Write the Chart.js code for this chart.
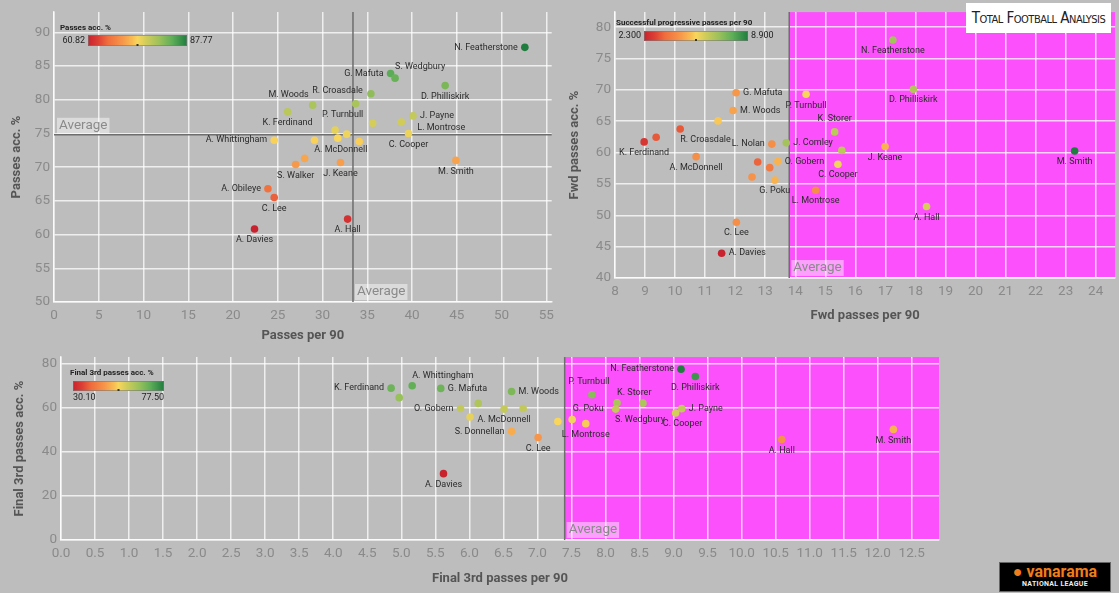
<!DOCTYPE html>
<html>
<head>
<meta charset="utf-8">
<title>Passing scatter plots</title>
<script src="https://cdn.jsdelivr.net/npm/chart.js"></script>
<style>
    body { margin: 0; background: #bdbdbd; width: 1119px; height: 593px; overflow: hidden; position: relative; font-family: Roboto, sans-serif; }
    canvas { position: absolute; }
    #c1 { left: 0; top: 0; }
    #c2 { left: 560px; top: 0; }
    #c3 { left: 0; top: 345px; }
    .tfa { position: absolute; left: 966px; top: 3px; width: 145px; height: 30px; background: #fff;
           font-family: "DejaVu Sans Condensed", sans-serif; font-variant: small-caps; font-size: 15px;
           color: #222; text-align: center; line-height: 30px; letter-spacing: -0.5px; }
    .vnl { position: absolute; left: 999px; top: 562px; width: 110px; height: 28px; background: #000;
           border: 1px solid #666; text-align: center; }
    .vnl .v { color: #f07d1a; font: bold 16px Roboto, sans-serif; line-height: 17px; }
    .vnl .n { color: #eee; font: bold 7px Roboto, sans-serif; letter-spacing: 0.3px; }
</style>
</head>
<body>
    <canvas id="c1" width="560" height="350"></canvas>
    <canvas id="c2" width="559" height="330"></canvas>
    <canvas id="c3" width="950" height="248"></canvas>
    <div class="tfa">Total Football Analysis</div>
    <div class="vnl"><div class="v">&#9679; vanarama</div><div class="n">NATIONAL LEAGUE</div></div>

    <script>
        // ---- Passes (top left) ----
        const names1 = ['N. Featherstone', 'G. Mafuta', 'S. Wedgbury', 'D. Philliskirk', 'R. Croasdale', 'P. Turnbull',
            'M. Woods', 'K. Ferdinand', 'J. Payne', 'L. Montrose', '', '', '', 'C. Cooper', 'A. Whittingham', '',
            'A. McDonnell', '', '', 'S. Walker', 'J. Keane', 'M. Smith', 'A. Obileye', 'C. Lee', 'A. Davies', 'A. Hall'];
        const passes90 = [52.6, 37.6, 38.1, 43.7, 35.4, 33.7, 28.9, 26.1, 40.1, 38.8, 35.6, 31.4, 32.7, 39.6, 24.6, 29.1,
            31.7, 34.1, 28.0, 27.0, 32.0, 44.9, 23.9, 24.6, 22.4, 32.8];
        const passAcc = [87.77, 83.9, 83.2, 82.1, 80.9, 79.4, 79.2, 78.2, 77.6, 76.7, 76.5, 75.5, 74.9, 75.0, 74.0, 74.0,
            74.3, 73.8, 71.3, 70.4, 70.7, 71.0, 66.8, 65.5, 60.82, 62.3];
        const avgPasses90 = 33.4;
        const avgPassAcc = 74.8;

        // ---- Forward passes (top right), colour = successful progressive passes per 90 ----
        const names2 = ['N. Featherstone', 'D. Philliskirk', 'G. Mafuta', 'P. Turnbull', 'M. Woods', '', 'K. Storer',
            'R. Croasdale', '', 'K. Ferdinand', 'L. Nolan', 'J. Comley', 'J. Keane', '', 'M. Smith', 'A. McDonnell',
            'O. Gobern', '', 'C. Cooper', '', '', 'G. Poku', 'L. Montrose', 'A. Hall', 'C. Lee', 'A. Davies'];
        const fwd90 = [17.25, 17.93, 12.03, 14.36, 11.93, 11.43, 15.31, 10.17, 9.37, 8.97, 13.22, 13.70, 16.99, 15.55,
            23.3, 10.70, 13.42, 12.75, 15.42, 13.15, 12.56, 13.32, 14.68, 18.37, 12.04, 11.55];
        const fwdAcc = [77.96, 70.1, 69.55, 69.3, 66.7, 65.05, 63.3, 63.75, 62.45, 61.7, 61.35, 61.55, 60.97, 60.35,
            60.25, 59.35, 58.6, 58.5, 58.15, 57.6, 56.1, 55.6, 54.0, 51.4, 48.9, 43.95];
        const progPasses90 = [6.9, 6.65, 4.6, 5.6, 4.8, 5.4, 6.5, 3.35, 3.35, 2.8, 4.4, 6.9, 5.1, 6.5, 8.9, 4.4, 5.1,
            3.5, 5.7, 3.95, 4.5, 5.1, 4.4, 6.1, 4.4, 2.3];
        const avgFwd90 = 13.8;

        // ---- Final third passes (bottom) ----
        const names3 = ['N. Featherstone', 'D. Philliskirk', 'A. Whittingham', 'K. Ferdinand', 'G. Mafuta', 'M. Woods',
            'P. Turnbull', '', 'K. Storer', 'S. Wedgbury', '', 'O. Gobern', '', 'J. Payne', 'A. McDonnell', 'G. Poku', '',
            'C. Cooper', '', '', 'L. Montrose', 'M. Smith', 'S. Donnellan', 'C. Lee', 'A. Hall', 'A. Davies'];
        const final90 = [9.11, 9.32, 5.16, 4.85, 5.58, 6.62, 7.80, 4.97, 8.17, 8.55, 6.13, 5.87, 6.79, 9.12, 6.51, 8.15,
            6.01, 9.03, 7.51, 7.30, 7.71, 12.23, 6.62, 7.01, 10.59, 5.62];
        const finalAcc = [77.5, 74.2, 70.0, 68.9, 68.8, 67.4, 65.9, 64.6, 62.3, 62.1, 62.0, 59.7, 59.7, 59.6, 59.4, 59.4,
            55.8, 57.6, 54.7, 53.8, 52.8, 50.2, 49.3, 46.5, 45.6, 30.1];
        const avgFinal90 = 7.4;

        // label placement: 'b' below, 't' above, 'l' left, 'r' right, or [dx, dy, align]
        const labelPos1 = {
            'N. Featherstone': 'l', 'G. Mafuta': 'l', 'S. Wedgbury': [0, -11, 'left'], 'D. Philliskirk': 'b',
            'R. Croasdale': [-8, -3, 'right'], 'M. Woods': [-4, -10, 'right'], 'K. Ferdinand': 'b',
            'P. Turnbull': [-13, 11, 'center'], 'J. Payne': 'r', 'L. Montrose': [16, 6, 'left'], 'C. Cooper': 'b',
            'A. Whittingham': 'l', 'A. McDonnell': [3, 12, 'center'], 'S. Walker': 'b', 'J. Keane': 'b',
            'M. Smith': 'b', 'A. Obileye': 'l', 'C. Lee': 'b', 'A. Davies': 'b', 'A. Hall': 'b'
        };
        const labelPos2 = {
            'G. Mafuta': 'r', 'M. Woods': 'r', 'P. Turnbull': 'b', 'R. Croasdale': [0, 11, 'left'], 'K. Ferdinand': 'b',
            'A. McDonnell': 'b', 'L. Nolan': 'l', 'J. Comley': 'r', 'O. Gobern': 'r', 'G. Poku': 'b',
            'L. Montrose': 'b', 'C. Cooper': 'b', 'C. Lee': 'b', 'A. Davies': 'r', 'N. Featherstone': 'b',
            'D. Philliskirk': 'b', 'K. Storer': [0, -13, 'center'], 'J. Keane': 'b', 'M. Smith': 'b', 'A. Hall': 'b'
        };
        const labelPos3 = {
            'K. Ferdinand': 'l', 'A. Whittingham': [0, -10, 'left'], 'G. Mafuta': 'r', 'O. Gobern': 'l', 'M. Woods': 'r',
            'A. McDonnell': 'b', 'S. Donnellan': 'l', 'C. Lee': 'b', 'A. Davies': 'b', 'L. Montrose': 'b',
            'P. Turnbull': [-3, -13, 'center'], 'K. Storer': [0, -10, 'left'], 'G. Poku': [-12, 0, 'right'],
            'S. Wedgbury': [-3, 17, 'center'], 'N. Featherstone': 'l', 'D. Philliskirk': 'b', 'C. Cooper': [7, 11, 'center'],
            'J. Payne': 'r', 'A. Hall': 'b', 'M. Smith': 'b'
        };

        // red - yellow - green diverging palette
        const stops = [[0, '#c9222f'], [0.1, '#dc3e34'], [0.2, '#ef6d3d'], [0.35, '#f7974a'], [0.45, '#f8bd52'],
            [0.5, '#f8d65c'], [0.6, '#cccb5a'], [0.72, '#9cc15b'], [0.85, '#5fae58'], [1, '#1f7d3f']];
        function hex(h) { return [1, 3, 5].map(i => parseInt(h.substr(i, 2), 16)); }
        function colorAt(v, lo, hi) {
            const t = Math.max(0, Math.min(1, (v - lo) / (hi - lo)));
            for (let i = 1; i < stops.length; i++) {
                if (t <= stops[i][0]) {
                    const a = hex(stops[i - 1][1]), b = hex(stops[i][1]);
                    const f = (t - stops[i - 1][0]) / (stops[i][0] - stops[i - 1][0]);
                    return 'rgb(' + a.map((c, k) => Math.round(c + (b[k] - c) * f)).join(',') + ')';
                }
            }
            return stops[stops.length - 1][1];
        }

        const gridColor = 'rgba(255,255,255,0.75)';
        const tickColor = '#8a8a8a';
        const titleColor = '#555';
        const tickFont = { family: 'Roboto', size: 13.5 };
        const titleFont = { family: 'Roboto', size: 13, weight: 'bold' };

        const extras = {};

        function drawAvgLabel(ctx, x, bottom) {
            ctx.font = '13.5px Roboto';
            const w = ctx.measureText('Average').width + 4;
            ctx.fillStyle = 'rgba(255,255,255,0.45)';
            ctx.fillRect(x, bottom - 16, w, 16);
            ctx.fillStyle = '#8a8a8a';
            ctx.textAlign = 'left';
            ctx.textBaseline = 'middle';
            ctx.fillText('Average', x + 2, bottom - 8);
        }

        function drawLegend(ctx, lg) {
            ctx.fillStyle = '#222';
            ctx.font = 'bold 8px Roboto';
            ctx.textAlign = 'left';
            ctx.textBaseline = 'middle';
            ctx.fillText(lg.title, lg.tx, lg.ty);
            const g = ctx.createLinearGradient(lg.x, 0, lg.x + lg.w, 0);
            stops.forEach(s => g.addColorStop(s[0], s[1]));
            ctx.fillStyle = g;
            ctx.fillRect(lg.x, lg.y, lg.w, lg.h);
            ctx.strokeStyle = 'rgba(120,120,120,0.6)';
            ctx.lineWidth = 1;
            ctx.strokeRect(lg.x + 0.5, lg.y + 0.5, lg.w - 1, lg.h - 1);
            ctx.fillStyle = '#333';
            ctx.fillRect(lg.x + lg.w / 2 - 1, lg.y + lg.h - 2, 2, 2);
            ctx.font = '9px Roboto';
            ctx.fillStyle = '#222';
            if (lg.below) {
                ctx.textAlign = 'left';
                ctx.fillText(lg.lo, lg.x, lg.y + lg.h + 7);
                ctx.textAlign = 'right';
                ctx.fillText(lg.hi, lg.x + lg.w, lg.y + lg.h + 7);
            } else {
                ctx.textAlign = 'right';
                ctx.fillText(lg.lo, lg.x - 3, lg.y + lg.h / 2);
                ctx.textAlign = 'left';
                ctx.fillText(lg.hi, lg.x + lg.w + 3, lg.y + lg.h / 2);
            }
        }

        const overlay = {
            id: 'overlay',
            beforeDraw(chart) {
                const e = extras[chart.canvas.id];
                const { ctx, chartArea: a, scales: { x } } = chart;
                if (e.shadeFrom != null) {
                    const px = x.getPixelForValue(e.shadeFrom);
                    ctx.save();
                    ctx.fillStyle = '#fb50fb';
                    ctx.fillRect(px, a.top, a.right - px, a.bottom - a.top);
                    ctx.restore();
                }
            },
            beforeDatasetsDraw(chart) {
                const e = extras[chart.canvas.id];
                const { ctx, chartArea: a, scales: { x, y } } = chart;
                ctx.save();
                ctx.strokeStyle = '#6e6e6e';
                ctx.lineWidth = 1.5;
                ctx.beginPath();
                const px = x.getPixelForValue(e.avgX);
                ctx.moveTo(px, a.top);
                ctx.lineTo(px, a.bottom);
                if (e.avgY != null) {
                    const py = y.getPixelForValue(e.avgY);
                    ctx.moveTo(a.left, py);
                    ctx.lineTo(a.right, py);
                }
                ctx.stroke();
                ctx.restore();
            },
            afterDatasetsDraw(chart) {
                const e = extras[chart.canvas.id];
                const { ctx } = chart;
                const meta = chart.getDatasetMeta(0);
                ctx.save();
                ctx.font = '9px Roboto';
                ctx.fillStyle = '#2b2b2b';
                ctx.textBaseline = 'middle';
                e.names.forEach((n, i) => {
                    const p = e.place[n];
                    if (!n || !p) return;
                    const pt = meta.data[i];
                    let dx = 0, dy = 11, align = 'center';
                    if (p === 't') dy = -11;
                    else if (p === 'l') { dx = -7; dy = 0; align = 'right'; }
                    else if (p === 'r') { dx = 7; dy = 0; align = 'left'; }
                    else if (Array.isArray(p)) [dx, dy, align] = p;
                    ctx.textAlign = align;
                    ctx.fillText(n, pt.x + dx, pt.y + dy);
                });
                ctx.restore();
            },
            afterDraw(chart) {
                const e = extras[chart.canvas.id];
                const { ctx, chartArea: a, scales: { x, y } } = chart;
                ctx.save();
                if (e.avgY != null) drawAvgLabel(ctx, a.left + 3, y.getPixelForValue(e.avgY) - 1);
                drawAvgLabel(ctx, x.getPixelForValue(e.avgX) + 2, a.bottom - 2);
                drawLegend(ctx, e.legend);
                ctx.restore();
            }
        };

        function makeChart(id, cfg) {
            extras[id] = cfg.extra;
            const ctx = document.getElementById(id).getContext('2d');
            return new Chart(ctx, {
                type: 'scatter',
                data: {
                    datasets: [{
                        data: cfg.xs.map((v, i) => ({ x: v, y: cfg.ys[i] })),
                        pointBackgroundColor: cfg.colors,
                        pointBorderWidth: 0,
                        pointRadius: 3.8,
                        pointHoverRadius: 3.8
                    }]
                },
                options: {
                    responsive: false,
                    animation: false,
                    layout: { padding: cfg.padding },
                    plugins: { legend: { display: false }, tooltip: { enabled: false } },
                    scales: {
                        x: {
                            type: 'linear', min: cfg.xMin, max: cfg.xMax,
                            afterFit: s => { s.height = cfg.xHeight; },
                            ticks: {
                                stepSize: cfg.xStep, includeBounds: false, color: tickColor, font: tickFont,
                                padding: 6, maxRotation: 0, autoSkip: false,
                                callback: v => cfg.xDec ? v.toFixed(cfg.xDec) : v
                            },
                            grid: { color: gridColor, lineWidth: 1.5, drawTicks: false },
                            border: { color: gridColor, width: 1.5 },
                            title: { display: true, text: cfg.xTitle, color: titleColor, font: titleFont, padding: { bottom: 6 } }
                        },
                        y: {
                            min: cfg.yMin, max: cfg.yMax,
                            afterFit: s => { s.width = cfg.yWidth; },
                            ticks: { stepSize: cfg.yStep, includeBounds: false, color: tickColor, font: tickFont, padding: 4 },
                            grid: { color: gridColor, lineWidth: 1.5, drawTicks: false },
                            border: { color: gridColor, width: 1.5 },
                            title: { display: true, text: cfg.yTitle, color: titleColor, font: titleFont, padding: { top: cfg.yTitlePad } }
                        }
                    }
                },
                plugins: [overlay]
            });
        }

        makeChart('c1', {
            xs: passes90, ys: passAcc,
            colors: passAcc.map(v => colorAt(v, 60.82, 87.77)),
            padding: { top: 9, right: 8, left: 0, bottom: 0 },
            xMin: 0, xMax: 55.6, xStep: 5, xHeight: 48, xTitle: 'Passes per 90',
            yMin: 50, yMax: 93, yStep: 5, yWidth: 54, yTitle: 'Passes acc. %', yTitlePad: 9,
            extra: {
                names: names1, place: labelPos1, avgX: avgPasses90, avgY: avgPassAcc,
                legend: { title: 'Passes acc. %', tx: 60, ty: 28, x: 88, y: 35, w: 99, h: 11, lo: '60.82', hi: '87.77' }
            }
        });

        makeChart('c2', {
            xs: fwd90, ys: fwdAcc,
            colors: progPasses90.map(v => colorAt(v, 2.3, 8.9)),
            padding: { top: 7, right: 2, left: 0, bottom: 0 },
            xMin: 8, xMax: 24.65, xStep: 1, xHeight: 52, xTitle: 'Fwd passes per 90',
            yMin: 40, yMax: 82.4, yStep: 5, yWidth: 55, yTitle: 'Fwd passes acc. %', yTitlePad: 7,
            extra: {
                names: names2, place: labelPos2, avgX: avgFwd90, avgY: null, shadeFrom: avgFwd90,
                legend: { title: 'Successful progressive passes per 90', tx: 56, ty: 23, x: 84, y: 31, w: 104, h: 10, lo: '2.300', hi: '8.900' }
            }
        });

        makeChart('c3', {
            xs: final90, ys: finalAcc,
            colors: finalAcc.map(v => colorAt(v, 30.1, 77.5)),
            padding: { top: 12, right: 11, left: 0, bottom: 0 },
            xMin: 0, xMax: 12.9, xStep: 0.5, xDec: 1, xHeight: 53, xTitle: 'Final 3rd passes per 90',
            yMin: 0, yMax: 83, yStep: 20, yWidth: 61, yTitle: 'Final 3rd passes acc. %', yTitlePad: 12,
            extra: {
                names: names3, place: labelPos3, avgX: avgFinal90, avgY: null, shadeFrom: avgFinal90,
                legend: { title: 'Final 3rd passes acc. %', tx: 70, ty: 28, x: 73, y: 36, w: 91, h: 10, lo: '30.10', hi: '77.50', below: true }
            }
        });
    </script>
</body>
</html>
